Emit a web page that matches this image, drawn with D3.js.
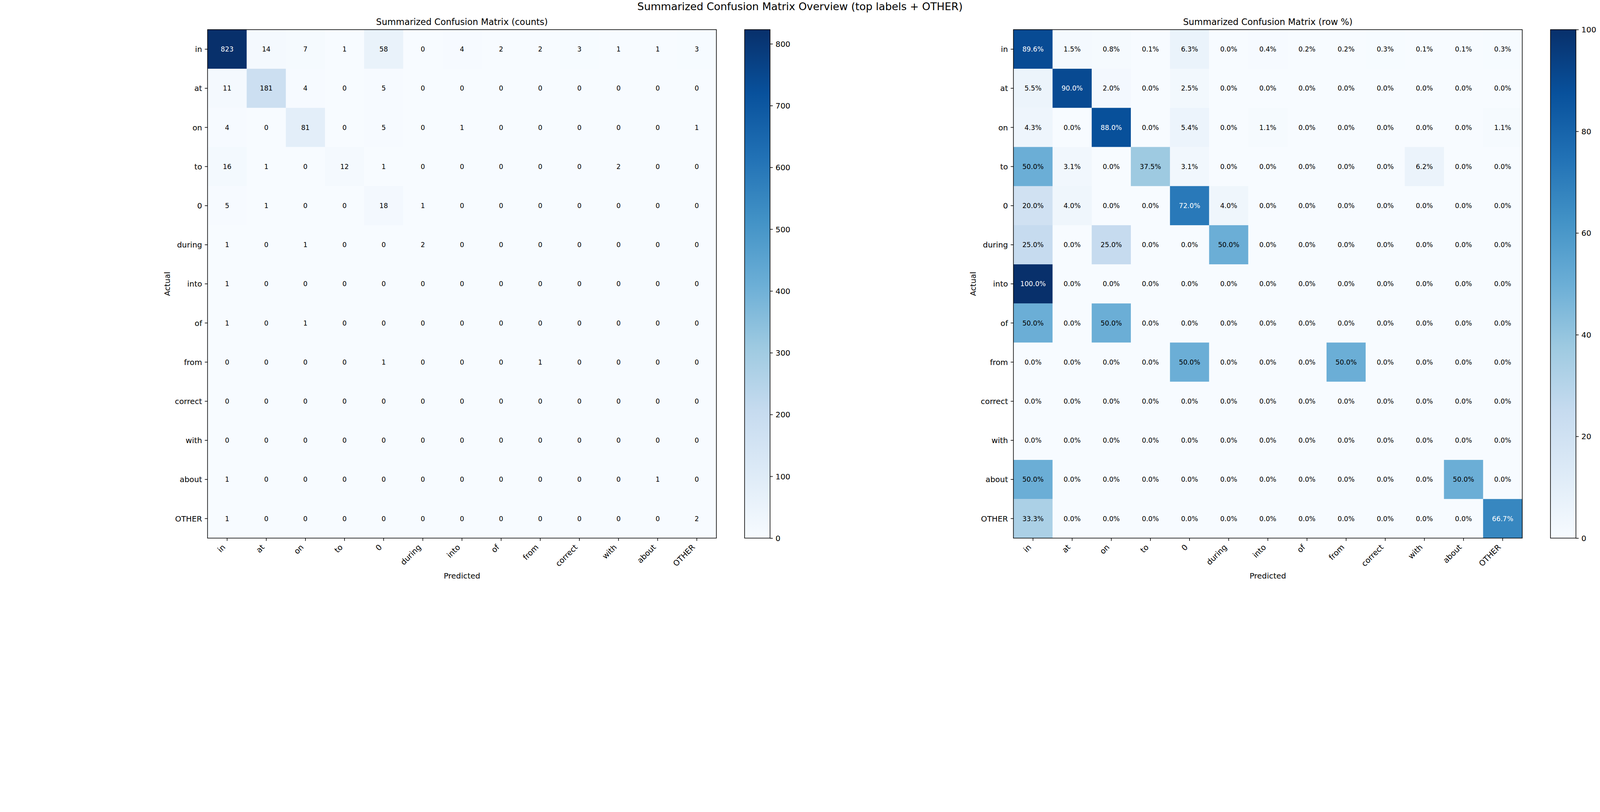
<!DOCTYPE html>
<html>
<head>
<meta charset="utf-8">
<script src="https://cdn.jsdelivr.net/npm/d3@7"></script>
<style>
  html, body { margin: 0; padding: 0; background: #fff; overflow: hidden; }
  #chart svg { display: block; width: 100vw; height: calc(100vw * 2080 / 5720); }
  text { font-family: "DejaVu Sans", sans-serif; }
</style>
</head>
<body>
<div id="chart"></div>
<script>
// ******************** data ********************
var labels = ["in", "at", "on", "to", "0", "during", "into", "of", "from", "correct", "with", "about", "OTHER"];

// rows = actual, columns = predicted
var counts = [
  [823, 14, 7, 1, 58, 0, 4, 2, 2, 3, 1, 1, 3],
  [11, 181, 4, 0, 5, 0, 0, 0, 0, 0, 0, 0, 0],
  [4, 0, 81, 0, 5, 0, 1, 0, 0, 0, 0, 0, 1],
  [16, 1, 0, 12, 1, 0, 0, 0, 0, 0, 2, 0, 0],
  [5, 1, 0, 0, 18, 1, 0, 0, 0, 0, 0, 0, 0],
  [1, 0, 1, 0, 0, 2, 0, 0, 0, 0, 0, 0, 0],
  [1, 0, 0, 0, 0, 0, 0, 0, 0, 0, 0, 0, 0],
  [1, 0, 1, 0, 0, 0, 0, 0, 0, 0, 0, 0, 0],
  [0, 0, 0, 0, 1, 0, 0, 0, 1, 0, 0, 0, 0],
  [0, 0, 0, 0, 0, 0, 0, 0, 0, 0, 0, 0, 0],
  [0, 0, 0, 0, 0, 0, 0, 0, 0, 0, 0, 0, 0],
  [1, 0, 0, 0, 0, 0, 0, 0, 0, 0, 0, 1, 0],
  [1, 0, 0, 0, 0, 0, 0, 0, 0, 0, 0, 0, 2]
];

var rowPct = [
  [89.6, 1.5, 0.8, 0.1, 6.3, 0.0, 0.4, 0.2, 0.2, 0.3, 0.1, 0.1, 0.3],
  [5.5, 90.0, 2.0, 0.0, 2.5, 0.0, 0.0, 0.0, 0.0, 0.0, 0.0, 0.0, 0.0],
  [4.3, 0.0, 88.0, 0.0, 5.4, 0.0, 1.1, 0.0, 0.0, 0.0, 0.0, 0.0, 1.1],
  [50.0, 3.1, 0.0, 37.5, 3.1, 0.0, 0.0, 0.0, 0.0, 0.0, 6.2, 0.0, 0.0],
  [20.0, 4.0, 0.0, 0.0, 72.0, 4.0, 0.0, 0.0, 0.0, 0.0, 0.0, 0.0, 0.0],
  [25.0, 0.0, 25.0, 0.0, 0.0, 50.0, 0.0, 0.0, 0.0, 0.0, 0.0, 0.0, 0.0],
  [100.0, 0.0, 0.0, 0.0, 0.0, 0.0, 0.0, 0.0, 0.0, 0.0, 0.0, 0.0, 0.0],
  [50.0, 0.0, 50.0, 0.0, 0.0, 0.0, 0.0, 0.0, 0.0, 0.0, 0.0, 0.0, 0.0],
  [0.0, 0.0, 0.0, 0.0, 50.0, 0.0, 0.0, 0.0, 50.0, 0.0, 0.0, 0.0, 0.0],
  [0.0, 0.0, 0.0, 0.0, 0.0, 0.0, 0.0, 0.0, 0.0, 0.0, 0.0, 0.0, 0.0],
  [0.0, 0.0, 0.0, 0.0, 0.0, 0.0, 0.0, 0.0, 0.0, 0.0, 0.0, 0.0, 0.0],
  [50.0, 0.0, 0.0, 0.0, 0.0, 0.0, 0.0, 0.0, 0.0, 0.0, 0.0, 50.0, 0.0],
  [33.3, 0.0, 0.0, 0.0, 0.0, 0.0, 0.0, 0.0, 0.0, 0.0, 0.0, 0.0, 66.7]
];

var countTicks = [0, 100, 200, 300, 400, 500, 600, 700, 800];
var pctTicks = [0, 20, 40, 60, 80, 100];

// matplotlib "Blues" is a straight linear ramp through these colorbrewer stops
var bluesStops = ["#f7fbff", "#deebf7", "#c6dbef", "#9ecae1", "#6baed6", "#4292c6", "#2171b5", "#08519c", "#08306b"];

// ******************** page / figure ********************
var W = 5720, H = 2080;
var pt = 2.78;                       // px per point (figure saved at ~200 dpi)
var tickLen = 3.5 * pt, tickPad = 3.5 * pt;
var lw = 0.8 * pt;

// viewBox so the drawing spans the window width whatever its css pixel size
var svg = d3.select("#chart").append("svg")
    .attr("viewBox", "0 0 " + W + " " + H)
    .attr("preserveAspectRatio", "xMidYMin meet");

var defs = svg.append("defs");

svg.append("text")
    .attr("x", W / 2)
    .attr("y", 37)
    .style("text-anchor", "middle")
    .style("font-size", "37.5px")
    .text("Summarized Confusion Matrix Overview (top labels + OTHER)");

// draws one heatmap with its colorbar
function drawMatrix(values, opt) {
  var top = 106, bottom = 1925;
  var left = opt.left, right = opt.left + (bottom - top);

  var x = d3.scaleBand().domain(labels).range([left, right]).padding(0);
  var y = d3.scaleBand().domain(labels).range([top, bottom]).padding(0);

  var color = d3.scaleLinear()
      .domain(bluesStops.map(function(c, i) { return opt.vmax * i / (bluesStops.length - 1); }))
      .range(bluesStops)
      .clamp(true);

  var g = svg.append("g");

  // flatten the matrix into cells
  var cells = [];
  values.forEach(function(row, r) {
    row.forEach(function(v, c) { cells.push({row: labels[r], col: labels[c], value: v}); });
  });

  g.selectAll(".cell")
      .data(cells)
      .enter().append("rect")
      .attr("class", "cell")
      .attr("x", d => x(d.col))
      .attr("y", d => y(d.row))
      .attr("width", x.bandwidth() + 0.5)
      .attr("height", y.bandwidth() + 0.5)
      .style("fill", d => color(d.value));

  //cell annotations, white on the dark half
  g.selectAll(".annot")
      .data(cells)
      .enter().append("text")
      .attr("class", "annot")
      .attr("x", d => x(d.col) + x.bandwidth() / 2)
      .attr("y", d => y(d.row) + y.bandwidth() / 2)
      .attr("dy", "0.36em")
      .style("text-anchor", "middle")
      .style("font-size", "24px")
      .style("fill", d => d.value > opt.vmax / 2 ? "#ffffff" : "#000000")
      .text(d => opt.fmt(d.value));

  // x axis
  var xAxis = g.append("g")
      .attr("transform", "translate(0," + bottom + ")")
      .call(d3.axisBottom(x).tickSize(tickLen).tickSizeOuter(0).tickPadding(tickPad));
  xAxis.select(".domain").remove();
  xAxis.selectAll("line").attr("stroke", "#000").attr("stroke-width", lw);
  xAxis.selectAll("text")
      .attr("x", 0).attr("y", 0).attr("dy", 0)
      .style("text-anchor", "end")
      .style("font-size", (10 * pt) + "px")
      .style("font-family", "DejaVu Sans")
      .style("fill", "#000")
      .attr("transform", "translate(" + (-0.707 * 0.236 * 10 * pt) + "," + (tickLen + tickPad + 0.707 * 0.76 * 10 * pt) + ") rotate(-45)");

  // y axis
  var yAxis = g.append("g")
      .attr("transform", "translate(" + left + ",0)")
      .call(d3.axisLeft(y).tickSize(tickLen).tickSizeOuter(0).tickPadding(tickPad));
  yAxis.select(".domain").remove();
  yAxis.selectAll("line").attr("stroke", "#000").attr("stroke-width", lw);
  yAxis.selectAll("text")
      .attr("dy", "0.36em")
      .style("font-size", (10 * pt) + "px")
      .style("font-family", "DejaVu Sans")
      .style("fill", "#000");

  // frame round the image
  g.append("rect")
      .attr("x", left)
      .attr("y", top)
      .attr("width", right - left)
      .attr("height", bottom - top)
      .style("fill", "none")
      .style("stroke", "#000")
      .style("stroke-width", lw);

  // titles
  g.append("text")
      .attr("x", (left + right) / 2)
      .attr("y", top - 6 * pt)
      .style("text-anchor", "middle")
      .style("font-size", "31.5px")
      .text(opt.title);

  g.append("text")
      .attr("x", (left + right) / 2)
      .attr("y", 2069)
      .style("text-anchor", "middle")
      .style("font-size", (10 * pt) + "px")
      .text("Predicted");

  g.append("text")
      .attr("transform", "translate(" + (left - 134) + "," + ((top + bottom) / 2) + ") rotate(-90)")
      .style("text-anchor", "middle")
      .style("font-size", (10 * pt) + "px")
      .text("Actual");

  // ---------- colorbar ----------
  var cbLeft = right + 101, cbWidth = 91;
  var cb = d3.scaleLinear().domain([0, opt.vmax]).range([bottom, top]);

  var grad = defs.append("linearGradient")
      .attr("id", opt.id)
      .attr("x1", 0).attr("y1", 1)
      .attr("x2", 0).attr("y2", 0);
  grad.selectAll("stop")
      .data(bluesStops)
      .enter().append("stop")
      .attr("offset", (d, i) => i / (bluesStops.length - 1))
      .attr("stop-color", d => d);

  g.append("rect")
      .attr("x", cbLeft)
      .attr("y", top)
      .attr("width", cbWidth)
      .attr("height", bottom - top)
      .style("fill", "url(#" + opt.id + ")")
      .style("stroke", "#000")
      .style("stroke-width", lw);

  var cbAxis = g.append("g")
      .attr("transform", "translate(" + (cbLeft + cbWidth) + ",0)")
      .call(d3.axisRight(cb).tickValues(opt.ticks).tickSize(tickLen).tickSizeOuter(0).tickPadding(tickPad).tickFormat(d3.format("d")));
  cbAxis.select(".domain").remove();
  cbAxis.selectAll("line").attr("stroke", "#000").attr("stroke-width", lw);
  cbAxis.selectAll("text")
      .attr("dy", "0.36em")
      .style("font-size", (10 * pt) + "px")
      .style("font-family", "DejaVu Sans")
      .style("fill", "#000");
}

drawMatrix(counts, {
  left: 742,
  vmax: d3.max(counts, r => d3.max(r)),
  fmt: d3.format("d"),
  title: "Summarized Confusion Matrix (counts)",
  ticks: countTicks,
  id: "gradCounts"
});

drawMatrix(rowPct, {
  left: 3623,
  vmax: 100,
  fmt: v => d3.format(".1f")(v) + "%",
  title: "Summarized Confusion Matrix (row %)",
  ticks: pctTicks,
  id: "gradPct"
});
</script>
</body>
</html>
